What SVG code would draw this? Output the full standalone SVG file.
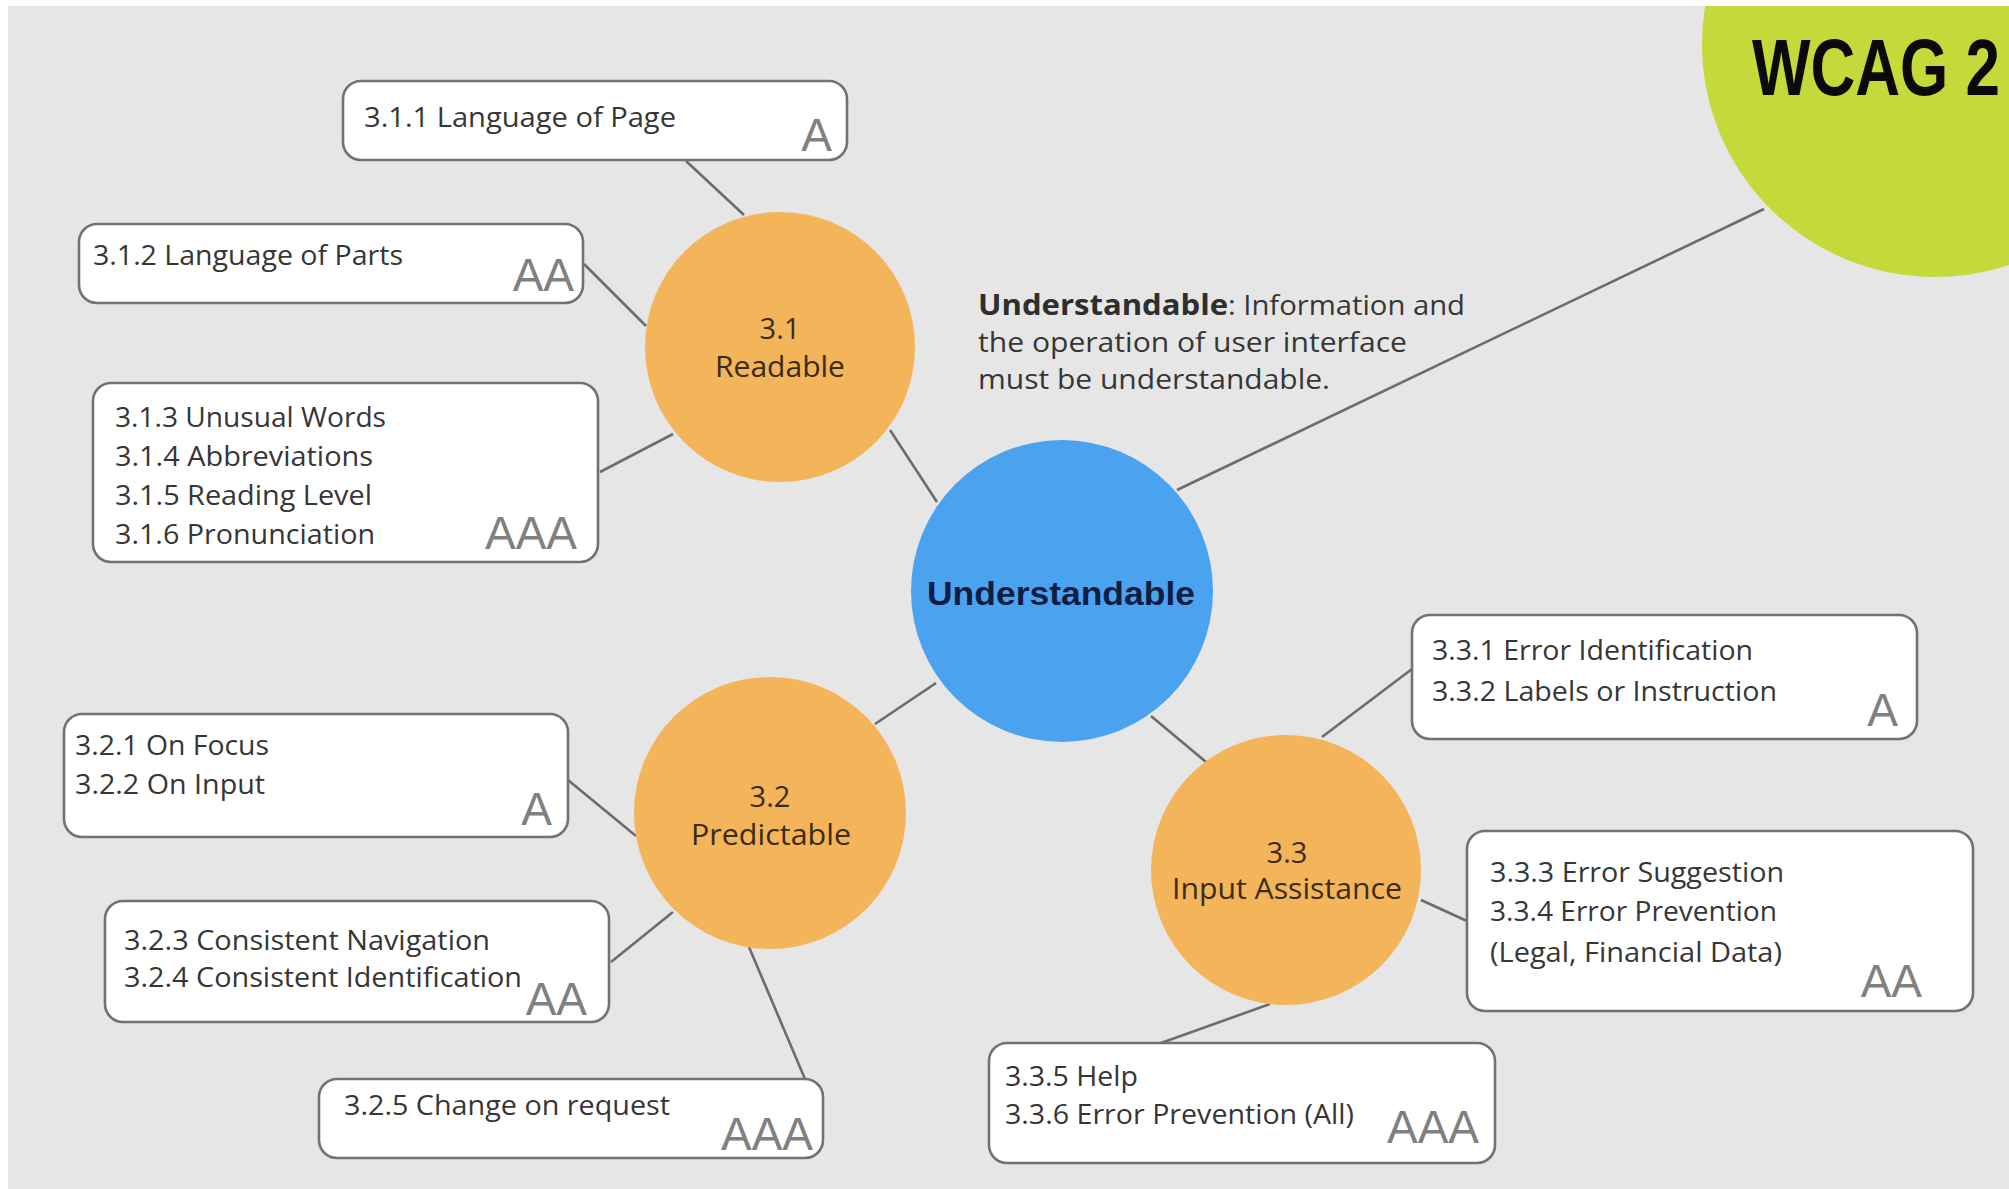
<svg xmlns="http://www.w3.org/2000/svg" width="2009" height="1189" viewBox="0 0 2009 1189">
<defs>
<style>
.box{fill:#ffffff;stroke:#727272;stroke-width:2.6}
.t{font-family:"Open Sans","Liberation Sans",sans-serif;font-size:28px;fill:#363636}
.g{font-family:"Liberation Sans",Arial,sans-serif;font-size:46px;fill:#808080;text-anchor:end}
.ct{font-family:"Open Sans","Liberation Sans",sans-serif;font-size:29px;fill:#3a2c16;text-anchor:middle}
.orange{fill:#f4b45a}
.conn line{stroke:#6c6c6c;stroke-width:2.6}
</style>
<clipPath id="canvas"><rect x="8" y="6" width="2001" height="1183"/></clipPath>
</defs>
<rect x="0" y="0" width="2009" height="1189" fill="#ffffff"/>
<rect x="8" y="6" width="2001" height="1183" fill="#e6e6e6"/>

<g id="connectors" class="conn">
<line x1="686" y1="161" x2="744" y2="215"/>
<line x1="584" y1="264" x2="646" y2="326"/>
<line x1="600" y1="472" x2="673" y2="434"/>
<line x1="890" y1="430" x2="937" y2="502"/>
<line x1="1177" y1="490" x2="1764" y2="209"/>
<line x1="875" y1="724" x2="936" y2="683"/>
<line x1="568" y1="780" x2="636" y2="836"/>
<line x1="611" y1="962" x2="673" y2="912"/>
<line x1="749" y1="947" x2="805" y2="1079"/>
<line x1="1151" y1="716" x2="1206" y2="762"/>
<line x1="1322" y1="737" x2="1412" y2="669"/>
<line x1="1421" y1="900" x2="1467" y2="921"/>
<line x1="1270" y1="1004" x2="1161" y2="1043"/>
</g>

<g id="wcag" clip-path="url(#canvas)">
<circle cx="1935" cy="44" r="233" fill="#c5d93b"/>
<text transform="translate(1752,95) scale(1,1.3)" x="0" y="0" font-family="'Liberation Sans',Arial,sans-serif" font-weight="bold" font-size="62" fill="#0a0a0a">WCAG 2</text>
</g>

<g id="understandable">
<circle cx="1062" cy="591" r="151" fill="#4ba3ef"/>
<text x="1061" y="605" font-family="'Liberation Sans',Arial,sans-serif" font-weight="bold" font-size="33" fill="#0f1d45" text-anchor="middle" textLength="268" lengthAdjust="spacingAndGlyphs">Understandable</text>
</g>

<g id="description">
<text class="t" y="315"><tspan x="978" font-weight="bold" fill="#2e2e2e" textLength="250" lengthAdjust="spacingAndGlyphs">Understandable</tspan><tspan x="1228" textLength="237" lengthAdjust="spacingAndGlyphs">: Information and</tspan></text>
<text class="t" x="978" y="352" textLength="429" lengthAdjust="spacingAndGlyphs">the operation of user interface</text>
<text class="t" x="978" y="389" textLength="352" lengthAdjust="spacingAndGlyphs">must be understandable.</text>
</g>

<g id="readable">
<circle class="orange" cx="780" cy="347" r="135"/>
<text class="ct" x="780" y="339">3.1</text>
<text class="ct" x="780" y="377" textLength="130" lengthAdjust="spacingAndGlyphs">Readable</text>
</g>

<g id="predictable">
<circle class="orange" cx="770" cy="813" r="136"/>
<text class="ct" x="770" y="807">3.2</text>
<text class="ct" x="771" y="845" textLength="160" lengthAdjust="spacingAndGlyphs">Predictable</text>
</g>

<g id="input-assistance">
<circle class="orange" cx="1286" cy="870" r="135"/>
<text class="ct" x="1287" y="863">3.3</text>
<text class="ct" x="1287" y="899" textLength="230" lengthAdjust="spacingAndGlyphs">Input Assistance</text>
</g>

<g id="b311">
<rect class="box" x="343" y="81" width="504" height="79" rx="18"/>
<text class="t" x="364" y="127" textLength="312" lengthAdjust="spacingAndGlyphs">3.1.1 Language of Page</text>
<text class="g" x="832" y="151">A</text>
</g>

<g id="b312">
<rect class="box" x="79" y="224" width="504" height="79" rx="18"/>
<text class="t" x="93" y="265" textLength="310" lengthAdjust="spacingAndGlyphs">3.1.2 Language of Parts</text>
<text class="g" x="574" y="291">AA</text>
</g>

<g id="b313">
<rect class="box" x="93" y="383" width="505" height="179" rx="18"/>
<text class="t" x="115" y="427" textLength="271" lengthAdjust="spacingAndGlyphs">3.1.3 Unusual Words</text>
<text class="t" x="115" y="466" textLength="258" lengthAdjust="spacingAndGlyphs">3.1.4 Abbreviations</text>
<text class="t" x="115" y="505" textLength="257" lengthAdjust="spacingAndGlyphs">3.1.5 Reading Level</text>
<text class="t" x="115" y="544" textLength="260" lengthAdjust="spacingAndGlyphs">3.1.6 Pronunciation</text>
<text class="g" x="577" y="549">AAA</text>
</g>

<g id="b321">
<rect class="box" x="64" y="714" width="504" height="123" rx="18"/>
<text class="t" x="75" y="755" textLength="194" lengthAdjust="spacingAndGlyphs">3.2.1 On Focus</text>
<text class="t" x="75" y="794" textLength="190" lengthAdjust="spacingAndGlyphs">3.2.2 On Input</text>
<text class="g" x="552" y="825">A</text>
</g>

<g id="b323">
<rect class="box" x="105" y="901" width="504" height="121" rx="18"/>
<text class="t" x="124" y="950" textLength="366" lengthAdjust="spacingAndGlyphs">3.2.3 Consistent Navigation</text>
<text class="t" x="124" y="987" textLength="398" lengthAdjust="spacingAndGlyphs">3.2.4 Consistent Identification</text>
<text class="g" x="587" y="1015">AA</text>
</g>

<g id="b325">
<rect class="box" x="319" y="1079" width="504" height="79" rx="18"/>
<text class="t" x="344" y="1115" textLength="326" lengthAdjust="spacingAndGlyphs">3.2.5 Change on request</text>
<text class="g" x="813" y="1150">AAA</text>
</g>

<g id="b331">
<rect class="box" x="1412" y="615" width="505" height="124" rx="18"/>
<text class="t" x="1432" y="660" textLength="321" lengthAdjust="spacingAndGlyphs">3.3.1 Error Identification</text>
<text class="t" x="1432" y="701" textLength="345" lengthAdjust="spacingAndGlyphs">3.3.2 Labels or Instruction</text>
<text class="g" x="1898" y="726">A</text>
</g>

<g id="b333">
<rect class="box" x="1467" y="831" width="506" height="180" rx="18"/>
<text class="t" x="1490" y="882" textLength="294" lengthAdjust="spacingAndGlyphs">3.3.3 Error Suggestion</text>
<text class="t" x="1490" y="921" textLength="287" lengthAdjust="spacingAndGlyphs">3.3.4 Error Prevention</text>
<text class="t" x="1490" y="962" textLength="292" lengthAdjust="spacingAndGlyphs">(Legal, Financial Data)</text>
<text class="g" x="1922" y="997">AA</text>
</g>

<g id="b335">
<rect class="box" x="989" y="1043" width="506" height="120" rx="18"/>
<text class="t" x="1005" y="1086" textLength="133" lengthAdjust="spacingAndGlyphs">3.3.5 Help</text>
<text class="t" x="1005" y="1124" textLength="349" lengthAdjust="spacingAndGlyphs">3.3.6 Error Prevention (All)</text>
<text class="g" x="1479" y="1143">AAA</text>
</g>
</svg>
